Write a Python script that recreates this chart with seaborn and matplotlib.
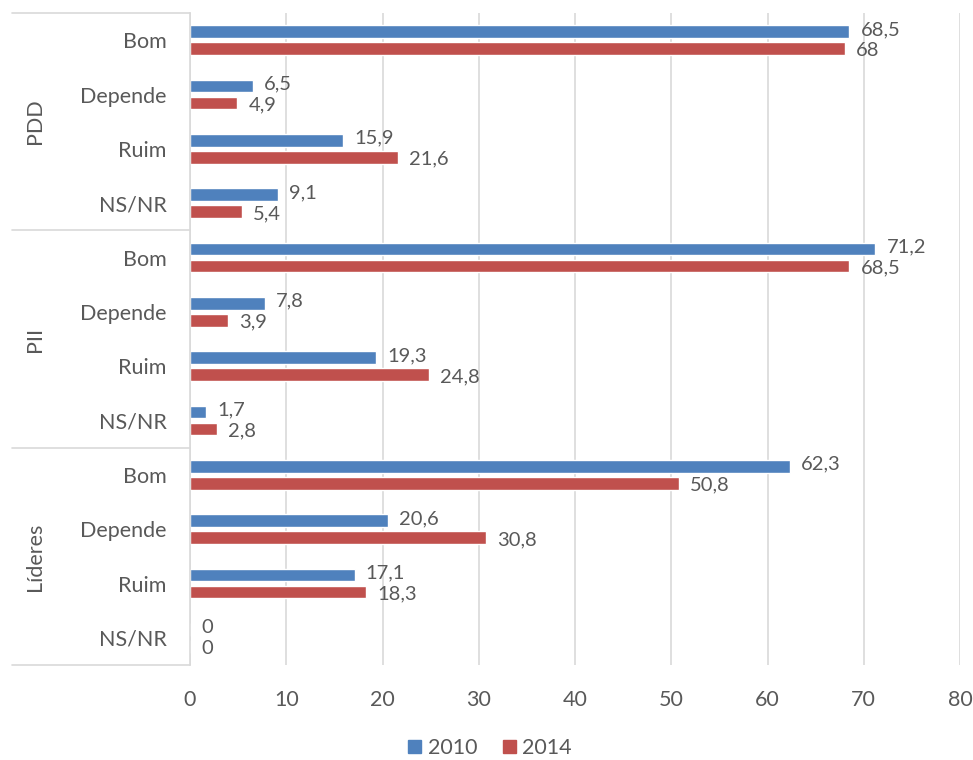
import matplotlib
matplotlib.use("Agg")
import matplotlib.pyplot as plt
import matplotlib.transforms as mtransforms
import seaborn as sns
import pandas as pd

groups = ["PDD", "PII", "Líderes"]
answers = ["Bom", "Depende", "Ruim", "NS/NR"]
v2010 = [68.5, 6.5, 15.9, 9.1, 71.2, 7.8, 19.3, 1.7, 62.3, 20.6, 17.1, 0]
v2014 = [68, 4.9, 21.6, 5.4, 68.5, 3.9, 24.8, 2.8, 50.8, 30.8, 18.3, 0]
years = ["2010", "2014"]
colors = ["#4F81BD", "#C0504D"]

rows = []
for i, g in enumerate(groups):
    for j, a in enumerate(answers):
        k = i * len(answers) + j
        rows.append({"key": g + "|" + a, "answer": a, "ano": years[0], "valor": v2010[k]})
        rows.append({"key": g + "|" + a, "answer": a, "ano": years[1], "valor": v2014[k]})
df = pd.DataFrame(rows)

sns.set_style("white")
plt.rcParams["font.family"] = ["Lato", "DejaVu Sans"]
txt = "#595959"
line = "#D9D9D9"
fs = 15.5

fig = plt.figure(figsize=(9.73, 7.6), dpi=100)
ax = fig.add_axes([190 / 973, 1 - 665 / 760, 770 / 973, 652 / 760])

sns.barplot(data=df, y="key", x="valor", hue="ano", palette=colors, orient="h",
            width=0.62, gap=0.25, legend=False, ax=ax, saturation=1)

ax.set_xlim(0, 80)
ax.set_ylim(11.5, -0.5)
ax.set_xticks(range(0, 81, 10))
ax.set_yticks(range(12))
ax.set_yticklabels(answers * 3)
ax.set_xlabel("")
ax.set_ylabel("")
ax.tick_params(axis="y", length=0, pad=17, labelsize=fs, labelcolor=txt)
ax.tick_params(axis="x", length=0, pad=18, labelsize=fs, labelcolor=txt)
ax.xaxis.grid(True, color=line, lw=1.2)
ax.set_axisbelow(True)
for s in ["top", "right", "bottom"]:
    ax.spines[s].set_visible(False)
ax.spines["left"].set_color(line)
ax.spines["left"].set_linewidth(1.2)

def fmt(v):
    if v == int(v):
        return str(int(v))
    return ("%.1f" % v).replace(".", ",")

# value labels: 2010 nudged up a bit, 2014 down, like the original
for c, dy in zip(ax.containers, [1.5, -1.5]):
    anns = ax.bar_label(c, labels=[fmt(b.get_width()) for b in c], padding=8,
                        fontsize=14.5, color=txt)
    for a in anns:
        a.xyann = (a.xyann[0], dy)

# group separators and labels
trans = mtransforms.blended_transform_factory(ax.transAxes, ax.transData)
x0 = (12 - 190) / 770
for y in [-0.5, 3.5, 7.5, 11.5]:
    ax.plot([x0, 0], [y, y], transform=trans, clip_on=False, color=line, lw=1.2)
for i, g in enumerate(groups):
    ax.text((35 - 190) / 770, i * 4 + 1.5, g, transform=trans, rotation=90,
            ha="center", va="center", fontsize=fs, color=txt)

handles = [plt.Rectangle((0, 0), 1, 1, color=c) for c in colors]
fig.legend(handles, years, loc="center", bbox_to_anchor=(490 / 973, 1 - 748 / 760),
           ncol=2, frameon=False, fontsize=fs, handlelength=0.6, handleheight=0.6,
           handletextpad=0.3, columnspacing=1.2, labelcolor=txt)

fig.savefig("out.png", dpi=100)
